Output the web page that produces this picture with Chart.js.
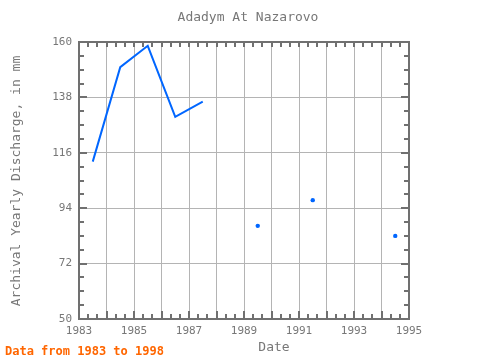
<!DOCTYPE html>
<html>
<head>
<meta charset="utf-8">
<script src="https://cdn.jsdelivr.net/npm/chart.js@4/dist/chart.umd.min.js"></script>
<style>
html,body{margin:0;padding:0;background:#fff;}
canvas{display:block;}
</style>
</head>
<body>
<canvas id="c" width="480" height="360" style="width:480px;height:360px"></canvas>
<script>
const chartTitle = "Adadym At Nazarovo";
const yAxisTitle = "Archival Yearly Discharge, in mm";
const xAxisTitle = "Date";
const footerText = "Data from 1983 to 1998";
const years = [1983.5, 1984.5, 1985.5, 1986.5, 1987.5, 1988.5, 1989.5, 1990.5, 1991.5, 1992.5, 1993.5, 1994.5];
const discharge = [112.5, 150, 158.5, 130.3, 136.3, null, 87, null, 97.2, null, null, 83];
const yTicks = [50, 72, 94, 116, 138, 160];
const xTickLabels = [1983, 1985, 1987, 1989, 1991, 1993, 1995];

const FONT = "'DejaVu Sans Mono', monospace";
const GRAY = '#777777';
const FRAME = '#707070';

const points = years.map((x, i) => ({x: x, y: discharge[i]}));

const decor = {
  id: 'decor',
  afterDraw(chart) {
    const ctx = chart.ctx;
    const a = chart.chartArea;
    const xs = chart.scales.x, ys = chart.scales.y;
    ctx.save();
    ctx.strokeStyle = FRAME;
    ctx.lineWidth = 2;
    ctx.strokeRect(a.left, a.top, a.right - a.left, a.bottom - a.top);
    const yMin = yTicks[0], yMax = yTicks[yTicks.length - 1];
    const yMajor = yTicks[1] - yTicks[0];
    const yStep = yMajor / 4;
    for (let v = yMin; v <= yMax + 1e-6; v += yStep) {
      const p = Math.round(ys.getPixelForValue(v));
      const r = (v - yMin) / yMajor;
      const major = Math.abs(r - Math.round(r)) < 1e-6;
      const len = major ? 8 : 5;
      ctx.beginPath();
      ctx.moveTo(a.left, p); ctx.lineTo(a.left + len, p);
      ctx.moveTo(a.right, p); ctx.lineTo(a.right - len, p);
      ctx.stroke();
    }
    const xMin = xs.min, xMax = xs.max;
    for (let k = 0; k <= (xMax - xMin) * 3; k++) {
      const v = xMin + k / 3;
      const p = Math.round(xs.getPixelForValue(v));
      const major = k % 3 === 0;
      const lenB = major ? 8 : 5;
      ctx.beginPath();
      ctx.moveTo(p, a.bottom); ctx.lineTo(p, a.bottom - lenB);
      ctx.moveTo(p, a.top); ctx.lineTo(p, a.top + 5);
      ctx.stroke();
    }
    ctx.fillStyle = GRAY;
    ctx.font = "13px " + FONT;
    ctx.textAlign = 'center';
    ctx.textBaseline = 'middle';
    ctx.fillText(chartTitle, (a.left + a.right) / 2 + 4, 18);
    ctx.fillText(xAxisTitle, 274, 348);
    ctx.save();
    ctx.translate(17, 181);
    ctx.rotate(-Math.PI / 2);
    ctx.fillText(yAxisTitle, 0, 0);
    ctx.restore();
    ctx.fillStyle = '#ff6600';
    ctx.font = "bold 12px " + FONT;
    ctx.textAlign = 'left';
    ctx.fillText(footerText, 5, 352);
    ctx.restore();
  }
};

new Chart(document.getElementById('c'), {
  type: 'line',
  data: {
    datasets: [{
      data: points,
      borderColor: '#0066ff',
      backgroundColor: '#0066ff',
      borderWidth: 2,
      spanGaps: false,
      pointRadius: (c) => {
        const i = c.dataIndex;
        const prev = i > 0 ? discharge[i - 1] : null;
        const next = i < discharge.length - 1 ? discharge[i + 1] : null;
        return (prev === null && next === null) ? 2.2 : 0;
      },
      pointBorderWidth: 0,
      pointHoverRadius: 0,
      tension: 0
    }]
  },
  options: {
    responsive: false,
    devicePixelRatio: 1,
    animation: false,
    layout: {padding: {left: 0, right: 71, top: 42, bottom: 0}},
    plugins: {legend: {display: false}, tooltip: {enabled: false}, title: {display: false}},
    scales: {
      x: {
        type: 'linear',
        min: 1983, max: 1995,
        ticks: {
          stepSize: 1,
          autoSkip: false,
          maxRotation: 0,
          padding: 6,
          color: GRAY,
          font: {family: FONT, size: 11},
          callback: (v) => xTickLabels.includes(v) ? String(v) : ''
        },
        grid: {color: '#b4b4b4', lineWidth: 1, drawTicks: false},
        border: {display: false},
        afterFit: (s) => { s.height = 41; }
      },
      y: {
        min: yTicks[0], max: yTicks[yTicks.length - 1],
        afterBuildTicks: (s) => { s.ticks = yTicks.map(v => ({value: v})); },
        ticks: {
          padding: 7,
          color: GRAY,
          font: {family: FONT, size: 11},
          callback: (v) => String(v)
        },
        grid: {color: '#b4b4b4', lineWidth: 1, drawTicks: false},
        border: {display: false},
        afterFit: (s) => { s.width = 79; }
      }
    }
  },
  plugins: [decor]
});
</script>
</body>
</html>
